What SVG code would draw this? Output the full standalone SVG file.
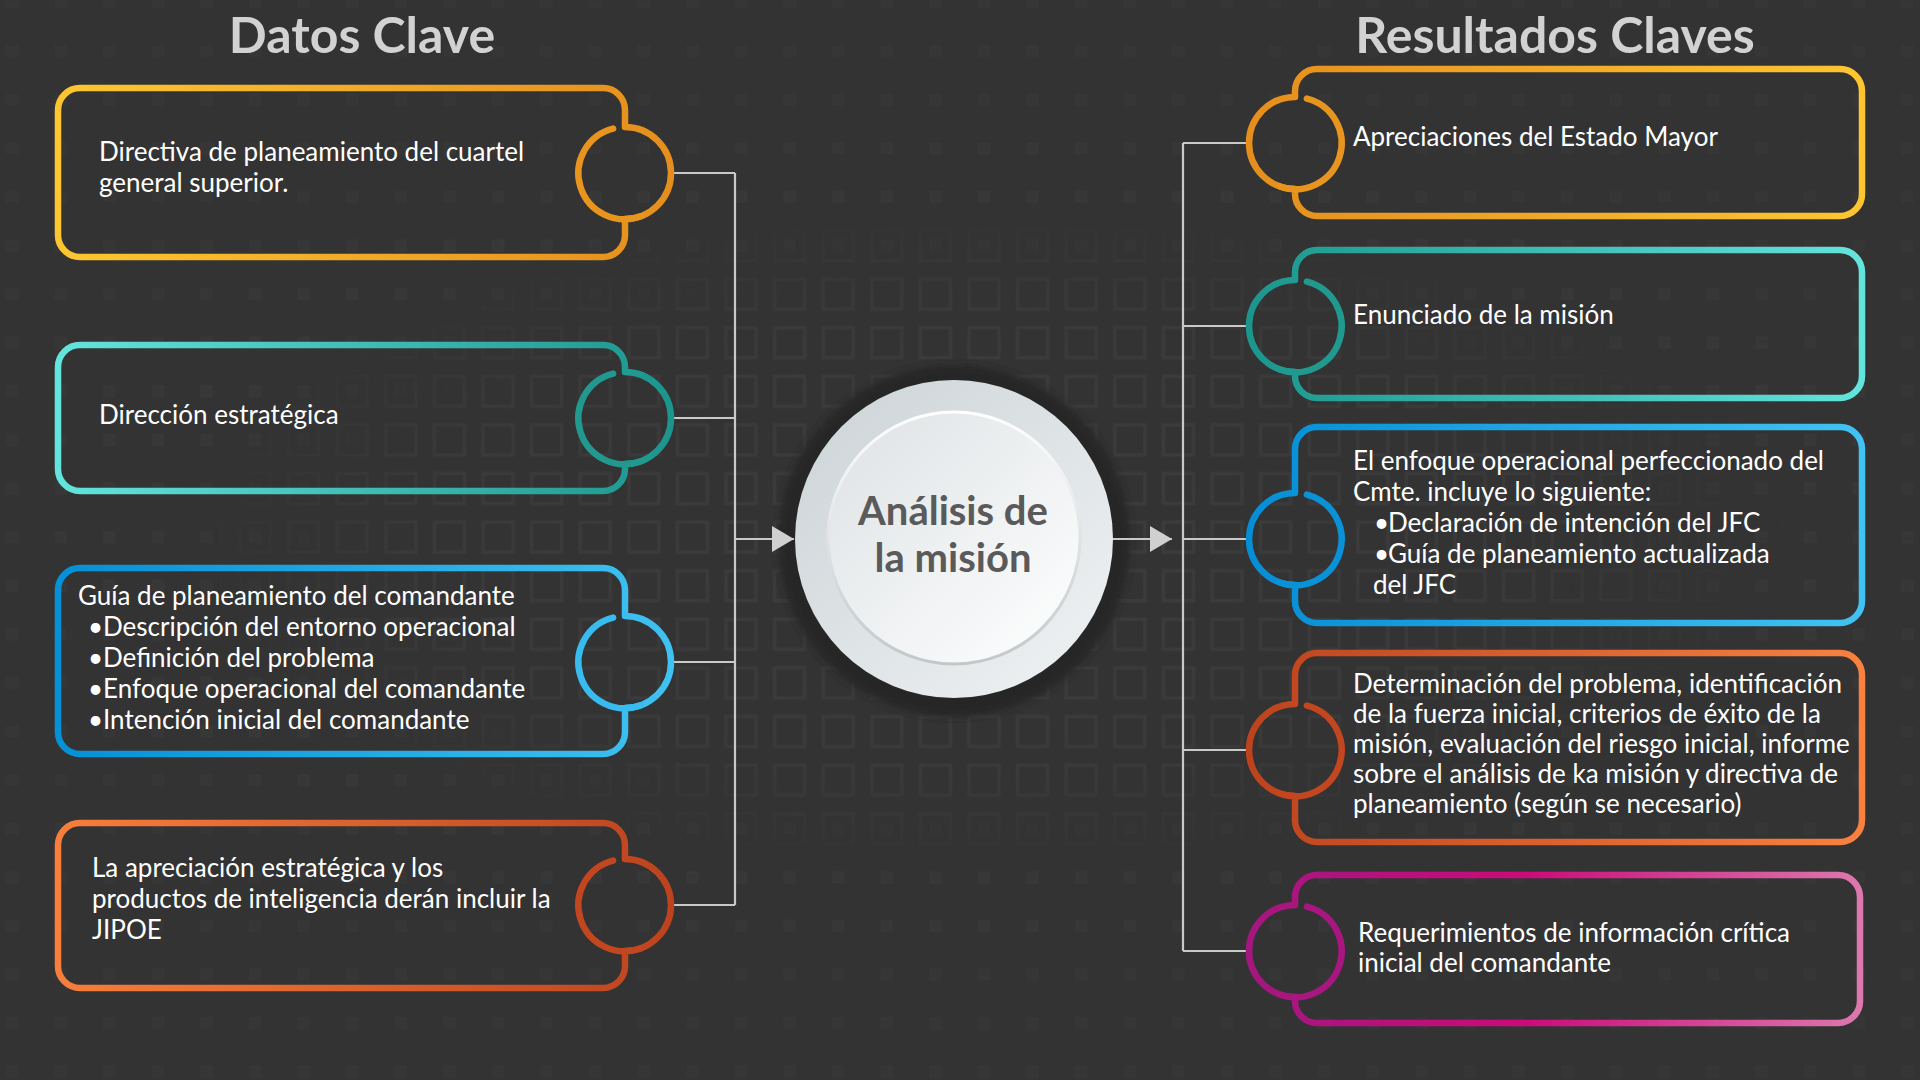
<svg xmlns="http://www.w3.org/2000/svg" width="1920" height="1080" viewBox="0 0 1920 1080">
<defs>
<style>
.title{font-family:Lato,"Liberation Sans",sans-serif;font-weight:700;font-size:50px;fill:#d2d2d2;text-anchor:middle}
.txt{font-family:Lato,"Liberation Sans",sans-serif;font-size:26px;fill:#ffffff}
.box{fill:none;stroke-width:6.5;stroke-linejoin:round}
.arc{fill:none;stroke-width:6.5;stroke-linecap:round}
.con{fill:none;stroke:#c9c9c9;stroke-width:2.2}
.ctr{font-family:Lato,"Liberation Sans",sans-serif;font-weight:700;font-size:40px;fill:#5a5a5a;text-anchor:middle}
</style>
<marker id="arr" viewBox="0 0 22 26" refX="22" refY="13" markerWidth="22" markerHeight="26" markerUnits="userSpaceOnUse" orient="auto">
<path d="M0,0 L22,13 L0,26 Z" fill="#d0d0d0"/>
</marker>
<linearGradient id="gL1" x1="0" y1="0" x2="1" y2="0"><stop offset="0" stop-color="#fdc631"/><stop offset="1" stop-color="#e58e1d"/></linearGradient>
<linearGradient id="gL2" x1="0" y1="0" x2="1" y2="0"><stop offset="0" stop-color="#63e4dd"/><stop offset="1" stop-color="#1c968d"/></linearGradient>
<linearGradient id="gL3" x1="0" y1="0" x2="1" y2="0"><stop offset="0" stop-color="#0590d7"/><stop offset="1" stop-color="#3fc1f1"/></linearGradient>
<linearGradient id="gL4" x1="0" y1="0" x2="1" y2="0"><stop offset="0" stop-color="#f87e3c"/><stop offset="1" stop-color="#bd431e"/></linearGradient>
<linearGradient id="gR1" x1="0" y1="0" x2="1" y2="0"><stop offset="0" stop-color="#e58e1d"/><stop offset="1" stop-color="#fdc631"/></linearGradient>
<linearGradient id="gR2" x1="0" y1="0" x2="1" y2="0"><stop offset="0" stop-color="#1c968d"/><stop offset="1" stop-color="#63e4dd"/></linearGradient>
<linearGradient id="gR3" x1="0" y1="0" x2="1" y2="0"><stop offset="0" stop-color="#058ed6"/><stop offset="1" stop-color="#41c2f2"/></linearGradient>
<linearGradient id="gR4" x1="0" y1="0" x2="1" y2="0"><stop offset="0" stop-color="#bd431e"/><stop offset="1" stop-color="#f98140"/></linearGradient>
<linearGradient id="gR5" x1="0" y1="0" x2="1" y2="0"><stop offset="0" stop-color="#a3177f"/><stop offset="0.45" stop-color="#cc0a7b"/><stop offset="1" stop-color="#dc78ad"/></linearGradient>
<linearGradient id="gOuter" x1="0" y1="0" x2="1" y2="1"><stop offset="0" stop-color="#cbd3d6"/><stop offset="1" stop-color="#f1f3f4"/></linearGradient>
<linearGradient id="gInner" x1="0" y1="0" x2="1" y2="1"><stop offset="0" stop-color="#dde2e4"/><stop offset="1" stop-color="#ffffff"/></linearGradient>
<linearGradient id="gInnerStroke" x1="0" y1="0" x2="0" y2="1"><stop offset="0" stop-color="#ffffff"/><stop offset="1" stop-color="#c2c8ca"/></linearGradient>
<filter id="blur" x="-20%" y="-20%" width="140%" height="140%"><feGaussianBlur stdDeviation="3.5"/></filter>
<pattern id="pBig" patternUnits="userSpaceOnUse" x="-12.3" y="-21.8" width="48.6" height="48.6">
<rect x="9.3" y="9.3" width="30" height="30" fill="none" stroke="#3c3c3c" stroke-width="3.5"/>
</pattern>
<pattern id="pSmall" patternUnits="userSpaceOnUse" x="-12.3" y="-21.8" width="48.6" height="48.6">
<rect x="19.3" y="19.3" width="10" height="10" fill="#393939" stroke="#3b3b3b" stroke-width="2"/>
</pattern>
<radialGradient id="rgBig" cx="980" cy="540" r="1000" gradientUnits="userSpaceOnUse" gradientTransform="translate(980 540) scale(1 0.42) translate(-980 -540)">
<stop offset="0" stop-color="#fff"/><stop offset="0.55" stop-color="#fff" stop-opacity="0.8"/><stop offset="0.8" stop-color="#fff" stop-opacity="0"/>
</radialGradient>
<radialGradient id="rgSmall" cx="980" cy="540" r="1000" gradientUnits="userSpaceOnUse" gradientTransform="translate(980 540) scale(1 0.42) translate(-980 -540)">
<stop offset="0.6" stop-color="#fff" stop-opacity="0"/><stop offset="0.85" stop-color="#fff" stop-opacity="0.8"/><stop offset="1" stop-color="#fff" stop-opacity="0.5"/>
</radialGradient>
<mask id="mBig"><rect width="1920" height="1080" fill="url(#rgBig)"/></mask>
<mask id="mSmall"><rect width="1920" height="1080" fill="url(#rgSmall)"/></mask>
</defs>

<rect id="background" width="1920" height="1080" fill="#333333"/>
<g id="texture">
<rect width="1920" height="1080" fill="url(#pBig)" mask="url(#mBig)"/>
<rect width="1920" height="1080" fill="url(#pSmall)" mask="url(#mSmall)"/>
</g>

<text class="title" x="362" y="53">Datos Clave</text>
<text class="title" x="1555" y="53">Resultados Claves</text>

<g id="center-node">
<circle cx="954" cy="541" r="176" fill="#262727" filter="url(#blur)"/>
<circle cx="954" cy="539" r="159" fill="url(#gOuter)"/>
<circle cx="954" cy="538" r="126" fill="url(#gInner)" stroke="url(#gInnerStroke)" stroke-width="3"/>
<text class="ctr" x="953" y="525">Análisis de</text>
<text class="ctr" x="953" y="572">la misión</text>
</g>

<g id="connectors">
<path class="con" d="M671,173 H735 M671,418 H735 M671,662 H735 M671,905 H735 M735,173 V905"/>
<path class="con" d="M735,539 H794" marker-end="url(#arr)"/>
<path class="con" d="M1113,539 H1172" marker-end="url(#arr)"/>
<path class="con" d="M1183,143 V951 M1183,143 H1249 M1183,326 H1249 M1183,539 H1249 M1183,750 H1249 M1183,951 H1249"/>
</g>

<g id="left-1">
<path class="box" stroke="url(#gL1)" d="M80,88 H603 A22 22 0 0 1 625,110 V127 A46 46 0 0 1 625,219 V235 A22 22 0 0 1 603,257 H80 A22 22 0 0 1 58,235 V110 A22 22 0 0 1 80,88 Z"/>
<path class="arc" stroke="#e8951f" d="M613.1,128.6 A46 46 0 1 0 640.7,216.2"/>
<text class="txt" x="99" y="161">Directiva de planeamiento del cuartel</text>
<text class="txt" x="99" y="192">general superior.</text>
</g>

<g id="left-2">
<path class="box" stroke="url(#gL2)" d="M80,345 H603 A22 22 0 0 1 625,367 V372 A46 46 0 0 1 625,464 V469 A22 22 0 0 1 603,491 H80 A22 22 0 0 1 58,469 V367 A22 22 0 0 1 80,345 Z"/>
<path class="arc" stroke="#21998f" d="M613.1,373.6 A46 46 0 1 0 640.7,461.2"/>
<text class="txt" x="99" y="424">Dirección estratégica</text>
</g>

<g id="left-3">
<path class="box" stroke="url(#gL3)" d="M80,568 H603 A22 22 0 0 1 625,590 V616 A46 46 0 0 1 625,708 V732 A22 22 0 0 1 603,754 H80 A22 22 0 0 1 58,732 V590 A22 22 0 0 1 80,568 Z"/>
<path class="arc" stroke="#38bbee" d="M613.1,617.6 A46 46 0 1 0 640.7,705.2"/>
<text class="txt" x="78" y="605">Guía de planeamiento del comandante</text>
<text class="txt" y="636"><tspan x="88">•</tspan><tspan x="103">Descripción del entorno operacional</tspan></text>
<text class="txt" y="667"><tspan x="88">•</tspan><tspan x="103">Definición del problema</tspan></text>
<text class="txt" y="698"><tspan x="88">•</tspan><tspan x="103">Enfoque operacional del comandante</tspan></text>
<text class="txt" y="729"><tspan x="88">•</tspan><tspan x="103">Intención inicial del comandante</tspan></text>
</g>

<g id="left-4">
<path class="box" stroke="url(#gL4)" d="M80,823 H603 A22 22 0 0 1 625,845 V859 A46 46 0 0 1 625,951 V966 A22 22 0 0 1 603,988 H80 A22 22 0 0 1 58,966 V845 A22 22 0 0 1 80,823 Z"/>
<path class="arc" stroke="#c2461f" d="M613.1,860.6 A46 46 0 1 0 640.7,948.2"/>
<text class="txt" x="92" y="877">La apreciación estratégica y los</text>
<text class="txt" x="92" y="908">productos de inteligencia derán incluir la</text>
<text class="txt" x="92" y="939">JIPOE</text>
</g>

<g id="right-1">
<path class="box" stroke="url(#gR1)" d="M1317,69 H1840 A22 22 0 0 1 1862,91 V194 A22 22 0 0 1 1840,216 H1317 A22 22 0 0 1 1295,194 V189 A46 46 0 0 1 1295,97 V91 A22 22 0 0 1 1317,69 Z"/>
<path class="arc" stroke="#e8951f" d="M1306.9,98.6 A46 46 0 1 1 1279.3,186.2"/>
<text class="txt" x="1353" y="146">Apreciaciones del Estado Mayor</text>
</g>

<g id="right-2">
<path class="box" stroke="url(#gR2)" d="M1317,250 H1840 A22 22 0 0 1 1862,272 V376 A22 22 0 0 1 1840,398 H1317 A22 22 0 0 1 1295,376 V372 A46 46 0 0 1 1295,280 V272 A22 22 0 0 1 1317,250 Z"/>
<path class="arc" stroke="#21998f" d="M1306.9,281.6 A46 46 0 1 1 1279.3,369.2"/>
<text class="txt" x="1353" y="324">Enunciado de la misión</text>
</g>

<g id="right-3">
<path class="box" stroke="url(#gR3)" d="M1317,427 H1840 A22 22 0 0 1 1862,449 V601 A22 22 0 0 1 1840,623 H1317 A22 22 0 0 1 1295,601 V585 A46 46 0 0 1 1295,493 V449 A22 22 0 0 1 1317,427 Z"/>
<path class="arc" stroke="#0a92d8" d="M1306.9,494.6 A46 46 0 1 1 1279.3,582.2"/>
<text class="txt" x="1353" y="470">El enfoque operacional perfeccionado del</text>
<text class="txt" x="1353" y="501">Cmte. incluye lo siguiente:</text>
<text class="txt" y="532"><tspan x="1374">•</tspan><tspan x="1388">Declaración de intención del JFC</tspan></text>
<text class="txt" y="563"><tspan x="1374">•</tspan><tspan x="1388">Guía de planeamiento actualizada</tspan></text>
<text class="txt" x="1373" y="594">del JFC</text>
</g>

<g id="right-4">
<path class="box" stroke="url(#gR4)" d="M1317,653 H1840 A22 22 0 0 1 1862,675 V820 A22 22 0 0 1 1840,842 H1317 A22 22 0 0 1 1295,820 V796 A46 46 0 0 1 1295,704 V675 A22 22 0 0 1 1317,653 Z"/>
<path class="arc" stroke="#c2461f" d="M1306.9,705.6 A46 46 0 1 1 1279.3,793.2"/>
<text class="txt" x="1353" y="693">Determinación del problema, identificación</text>
<text class="txt" x="1353" y="723">de la fuerza inicial, criterios de éxito de la</text>
<text class="txt" x="1353" y="753">misión, evaluación del riesgo inicial, informe</text>
<text class="txt" x="1353" y="783">sobre el análisis de ka misión y directiva de</text>
<text class="txt" x="1353" y="813">planeamiento (según se necesario)</text>
</g>

<g id="right-5">
<path class="box" stroke="url(#gR5)" d="M1317,875 H1838 A22 22 0 0 1 1860,897 V1001 A22 22 0 0 1 1838,1023 H1317 A22 22 0 0 1 1295,1001 V997 A46 46 0 0 1 1295,905 V897 A22 22 0 0 1 1317,875 Z"/>
<path class="arc" stroke="#a8177f" d="M1306.9,906.6 A46 46 0 1 1 1279.3,994.2"/>
<text class="txt" x="1358" y="942">Requerimientos de información crítica</text>
<text class="txt" x="1358" y="972">inicial del comandante</text>
</g>
</svg>
